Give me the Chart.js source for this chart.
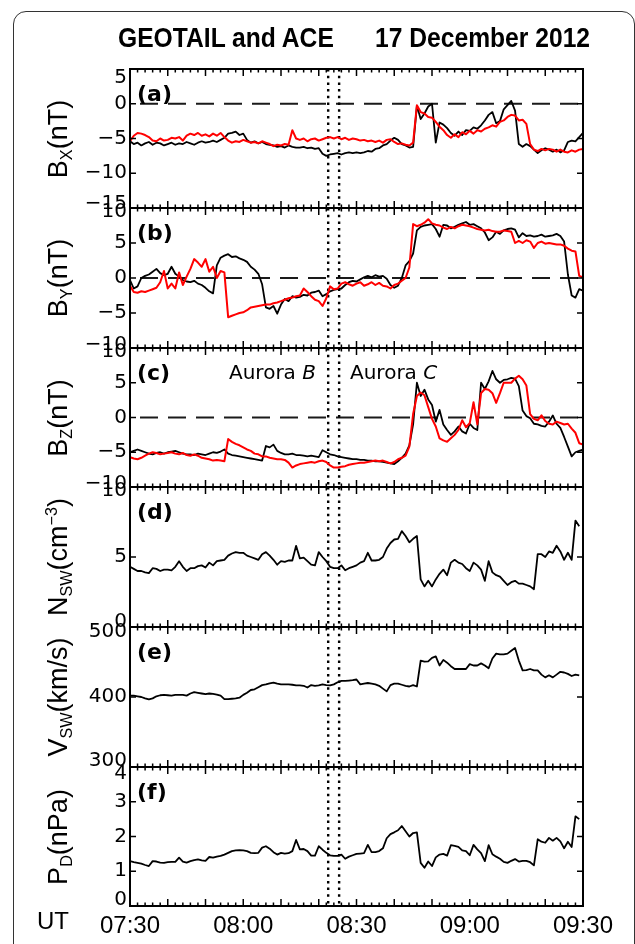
<!DOCTYPE html>
<html>
<head>
<meta charset="utf-8">
<title>GEOTAIL and ACE 17 December 2012</title>
<script src="https://cdn.jsdelivr.net/npm/chart.js@4.4.1/dist/chart.umd.min.js"></script>
<style>
  html, body { margin: 0; padding: 0; background: #fff; }
  #wrap { position: relative; width: 635px; height: 944px; overflow: hidden; background: #fff; }
  #wrap canvas { position: absolute; left: 0; top: 0; }
  #frame { position: absolute; left: 12.5px; top: 10.5px; width: 622px; height: 980px; border: 1.6px solid #333; border-radius: 13px; box-sizing: border-box; }
  .t { position: absolute; white-space: nowrap; line-height: 1; color: #000; }
  .title { font-family: 'Liberation Sans', Arial, sans-serif; font-weight: bold; font-size: 28px; transform: scaleX(0.88); transform-origin: 0 0; top: 24.3px; }
  .ytitle { font-family: 'Liberation Sans', Arial, sans-serif; font-size: 27px; transform: translate(-50%, -50%) rotate(-90deg); }
  .ytitle .sb { font-size: 0.6em; position: relative; top: 0.32em; }
  .ytitle .sp { font-size: 0.6em; position: relative; top: -0.62em; }
  .letter { font-family: 'DejaVu Sans', sans-serif; font-weight: bold; font-size: 22px; }
  .aur { font-family: 'DejaVu Sans', sans-serif; font-size: 20px; }
  .ut { font-family: 'Liberation Sans', Arial, sans-serif; font-size: 24px; }
</style>
</head>
<body>
<div id="wrap"><div id="frame"></div></div>
<script>
// ---------------- data ----------------
const minutes = [0,1,2,3,4,5,6,7,8,9,10,11,12,13,14,15,16,17,18,19,20,21,22,23,24,25,26,27,28,29,
  30,31,32,33,34,35,36,37,38,39,40,41,42,43,44,45,46,47,48,49,50,51,52,53,54,55,56,57,58,59,
  60,61,62,63,64,65,66,67,68,69,70,71,72,73,74,75,76,77,78,79,80,81,82,83,84,85,86,87,88,89,
  90,91,92,93,94,95,96,97,98,99,100,101,102,103,104,105,106,107,108,109,110,111,112,113,114,115,116,117,118,119,120];
const eventMinutes = [52.5, 55.4];
const timeTickValues = [0, 30, 60, 90, 120];
const timeTickLabels = ['07:30', '08:00', '08:30', '09:00', '09:30'];
const bxTicks = [-15, -10, -5, 0, 5];
const byTicks = [-10, -5, 0, 5, 10];
const bzTicks = [-10, -5, 0, 5, 10];
const nTicks = [0, 5, 10];
const vTicks = [300, 400, 500];
const pTicks = [0, 1, 2, 3, 4];
const panelLetters = ['(a)', '(b)', '(c)', '(d)', '(e)', '(f)'];
const axisTitles = [
  'B<span class="sb">X</span>(nT)',
  'B<span class="sb">Y</span>(nT)',
  'B<span class="sb">Z</span>(nT)',
  'N<span class="sb">SW</span>(cm<span class="sp">\u22123</span>)',
  'V<span class="sb">SW</span>(km/s)',
  'P<span class="sb">D</span>(nPa)'
];

const bxGeotail = [-5.4,-5.8,-5.6,-6.0,-5.7,-5.5,-5.9,-5.6,-5.7,-6.0,
  -5.8,-5.6,-5.9,-5.7,-5.8,-5.5,-5.7,-5.9,-5.6,-5.4,
  -5.6,-5.5,-5.3,-5.5,-5.2,-4.9,-4.3,-4.2,-4.0,-4.5,
  -4.3,-5.2,-5.6,-5.4,-5.7,-5.5,-5.8,-5.9,-6.0,-6.2,
  -6.1,-6.3,-6.0,-6.2,-6.3,-6.3,-6.2,-6.4,-6.3,-6.5,
  -6.4,-7.2,-7.5,-7.3,-7.2,-7.1,-7.3,-7.1,-7.0,-7.1,
  -7.0,-7.1,-7.0,-6.8,-6.9,-6.5,-6.4,-6.0,-5.8,-5.3,
  -4.9,-5.2,-5.8,-6.0,-6.3,-6.2,-0.3,-2.2,-1.4,-0.4,
  0.0,-5.6,-2.7,-3.0,-3.5,-4.2,-4.6,-4.0,-4.5,-3.8,
  -3.9,-3.4,-3.6,-3.1,-2.4,-1.6,-1.2,-2.8,-2.5,-0.8,
  -0.2,0.4,-1.0,-5.8,-6.2,-5.8,-6.1,-6.6,-7.1,-6.7,
  -6.4,-6.6,-6.9,-6.6,-7.0,-6.7,-5.5,-5.3,-5.4,-4.8,
  -4.2];
const bxAce = [-5.4,-4.6,-4.2,-4.3,-4.5,-4.8,-5.3,-5.4,-5.0,-5.3,
  -5.2,-4.9,-5.0,-4.8,-5.3,-4.6,-4.3,-4.5,-4.2,-4.6,
  -4.4,-4.7,-4.3,-4.6,-4.2,-4.8,-5.3,-5.6,-5.4,-5.5,
  -5.2,-5.4,-5.6,-5.5,-5.7,-5.4,-5.6,-5.8,-6.1,-5.9,
  -6.0,-5.8,-5.9,-3.8,-5.0,-5.2,-5.0,-5.4,-5.1,-5.0,
  -5.3,-5.1,-4.9,-4.8,-5.0,-4.8,-5.1,-4.9,-5.2,-5.0,
  -5.1,-5.3,-5.2,-5.4,-5.3,-5.5,-5.3,-5.6,-5.2,-5.1,
  -5.5,-5.8,-5.7,-5.9,-6.0,-5.6,-0.2,-1.2,-1.4,-1.9,
  -2.0,-2.6,-3.3,-3.8,-4.5,-4.9,-4.4,-4.8,-4.1,-4.4,
  -3.9,-4.3,-3.8,-4.0,-3.6,-3.4,-3.1,-3.3,-2.6,-2.4,
  -1.9,-1.6,-1.7,-2.4,-2.3,-2.9,-5.8,-6.6,-6.8,-6.5,
  -6.7,-6.5,-6.6,-6.9,-6.6,-6.9,-7.0,-6.7,-6.9,-6.6,
  -6.5];
const byGeotail = [-0.3,-1.5,-1.2,0.0,0.3,0.5,0.9,1.3,0.7,0.4,
  0.6,1.6,0.6,0.2,-0.3,-0.5,-0.6,-0.4,-0.8,-1.0,
  -1.4,-1.9,-2.2,1.8,2.9,3.2,3.4,3.0,3.1,2.8,
  2.6,2.3,1.6,1.2,0.6,-0.9,-4.2,-4.4,-4.0,-5.1,
  -3.8,-3.0,-3.3,-2.6,-2.8,-2.7,-2.4,-2.5,-2.1,-2.0,
  -1.8,-2.6,-2.3,-1.9,-1.7,-1.6,-1.5,-1.0,-0.6,-0.4,
  -0.5,-0.2,0.1,0.3,0.1,0.4,0.2,0.3,-0.1,-1.0,
  -1.4,-1.1,0.0,1.8,2.4,3.5,6.8,7.3,7.5,7.6,
  7.7,7.0,5.9,7.6,7.5,7.1,7.3,7.6,7.8,8.0,
  7.6,7.7,7.4,7.1,6.5,5.4,5.8,6.6,6.3,6.8,
  7.0,7.1,6.9,5.8,6.4,6.0,6.1,5.9,6.0,6.2,
  5.9,6.0,6.1,6.3,6.0,5.2,0.5,-2.5,-2.8,-1.6,
  -1.8];
const byAce = [-1.1,-2.0,-2.1,-1.9,-2.0,-1.8,-1.6,-1.4,-0.6,1.0,
  -1.5,-0.8,-1.5,0.8,-1.0,0.2,1.3,2.7,2.2,1.6,
  2.7,0.9,1.6,0.0,1.0,0.8,-5.6,-5.4,-5.2,-5.0,
  -4.9,-4.6,-4.2,-4.1,-4.0,-3.9,-3.8,-3.8,-3.6,-3.5,
  -3.3,-3.1,-2.9,-2.8,-2.6,-2.5,-1.5,-2.0,-2.6,-3.1,
  -3.3,-4.0,-2.9,-1.2,-1.6,-1.5,-0.8,-0.6,-0.9,-1.1,
  -0.8,-0.6,-1.1,-0.9,-0.6,-1.0,-0.7,-1.1,-1.2,-1.5,
  -1.0,-0.8,-0.4,0.0,1.5,7.7,7.4,7.6,7.9,8.4,
  7.8,7.6,7.5,7.2,7.0,7.3,7.1,7.4,7.6,7.5,
  7.4,7.2,7.0,6.9,6.8,6.9,6.7,6.6,6.6,6.8,
  6.7,6.6,5.0,5.3,5.0,5.4,5.2,4.3,5.0,5.2,
  4.9,5.0,4.9,4.8,4.8,4.6,4.2,3.9,3.8,0.3,
  0.1];
const bzGeotail = [-5.0,-4.8,-4.6,-4.8,-5.0,-5.2,-5.3,-5.1,-5.0,-5.2,
  -5.0,-4.9,-4.8,-5.0,-5.2,-5.3,-5.3,-5.4,-5.2,-5.3,
  -5.4,-5.2,-5.0,-5.1,-4.9,-4.6,-5.2,-5.4,-5.5,-5.6,
  -5.7,-5.8,-5.9,-6.0,-6.1,-6.2,-4.1,-4.3,-3.9,-4.8,
  -5.1,-5.3,-5.3,-5.2,-5.4,-5.4,-5.5,-5.6,-5.5,-5.6,
  -5.7,-4.7,-5.0,-5.3,-5.4,-5.6,-5.7,-5.8,-5.9,-6.0,
  -6.0,-6.1,-6.1,-6.2,-6.2,-6.3,-6.3,-6.4,-6.5,-6.6,
  -6.7,-6.3,-5.8,-5.2,-4.0,-1.0,5.0,3.1,4.0,2.6,
  1.8,-0.6,1.1,-1.0,-1.8,-2.5,-2.0,-1.3,-2.0,-2.3,
  -0.9,-1.5,-1.8,5.0,4.1,5.2,6.7,5.5,5.0,5.4,
  5.5,5.7,5.6,4.5,1.0,0.2,-0.1,-0.9,-1.0,-1.2,
  -1.3,-0.6,0.3,-0.9,-1.5,-2.8,-4.2,-5.6,-5.0,-4.8,
  -4.6];
const bzAce = [-5.7,-5.9,-6.0,-5.8,-5.5,-5.2,-5.0,-5.1,-5.3,-5.2,
  -5.1,-5.0,-5.2,-5.3,-5.1,-5.4,-5.5,-5.3,-5.5,-5.8,
  -5.9,-6.0,-6.2,-6.1,-6.2,-6.3,-3.1,-3.5,-3.8,-4.0,
  -4.3,-4.6,-4.8,-5.2,-5.3,-5.6,-5.6,-5.8,-5.9,-6.0,
  -6.0,-6.1,-6.5,-7.2,-6.9,-6.7,-6.6,-6.5,-6.4,-6.5,
  -6.3,-6.2,-6.4,-6.9,-7.2,-7.2,-7.1,-7.0,-6.8,-6.7,
  -6.6,-6.5,-6.5,-6.4,-6.3,-6.2,-6.3,-6.2,-6.4,-6.6,
  -6.4,-6.0,-5.8,-5.5,-4.2,0.5,3.1,3.6,3.2,1.5,
  -0.2,-1.3,-3.0,-3.3,-3.5,-3.0,-2.5,-1.8,-0.4,-1.4,
  -0.8,2.2,-1.0,3.5,4.1,4.0,3.5,2.1,3.5,5.0,
  5.0,5.0,5.6,6.0,5.5,4.6,0.5,-0.2,-0.4,0.3,
  -0.5,-0.9,-1.0,-0.6,-0.8,-1.0,-0.9,-1.6,-2.2,-3.7,
  -3.9];
const nsw = [4.3,4.15,4.0,4.0,3.9,3.85,4.2,4.15,4.0,4.1,
  4.1,4.05,4.3,4.7,4.3,4.0,4.2,4.2,4.35,4.4,
  4.25,4.6,4.4,4.7,4.75,4.8,5.1,5.25,5.35,5.3,
  5.3,5.1,5.0,4.9,4.8,5.2,5.35,5.1,4.8,4.45,
  4.7,4.65,4.75,4.75,5.8,4.9,4.95,4.7,4.45,4.4,
  5.35,5.0,4.7,4.3,4.2,4.2,4.4,4.05,4.2,4.3,
  4.4,4.6,4.7,5.3,4.75,4.75,4.8,5.0,5.6,6.0,
  6.25,6.3,6.85,6.5,6.05,6.3,6.5,3.4,2.9,3.3,
  2.9,3.4,3.8,4.1,3.7,4.6,4.8,4.6,4.5,4.2,
  4.0,4.6,4.4,4.1,3.3,4.7,3.9,3.7,3.6,3.3,
  3.0,3.2,3.3,3.1,3.1,3.0,2.9,2.7,5.2,5.2,
  5.0,5.4,5.3,5.8,5.4,4.8,5.3,4.8,7.6,7.2];
const vsw = [402,402,401,400,398,396.5,398,401,402.5,403,
  402.5,402,403,403,403,402,405,407,406,405,
  404,405,404.5,403.5,402,397,397,397.5,398,399,
  403,406,410,411,414,417,418,419.5,420.5,419,
  418,418,418,417.5,416.5,416.5,416,413.5,417,416,
  416.5,418,417,416.5,418,421,423,423,423.5,424,
  425,418,419,420,419,418,416,412,408,417,
  419,419,417.5,416,415,417,415,452,450.5,451,
  456,458,445,453,449,444,440,440,440,440,
  447,445,445,448,445,441,455,462,461,461,
  462,466,470,452,438,438.5,440,438,438,432,
  428,431,428,432,436,435,433,430,432,431];
const psw = [1.29,1.26,1.24,1.22,1.18,1.15,1.29,1.28,1.25,1.24,
  1.26,1.27,1.27,1.39,1.28,1.25,1.29,1.32,1.34,1.31,
  1.30,1.41,1.39,1.42,1.44,1.48,1.53,1.58,1.60,1.61,
  1.60,1.58,1.53,1.52,1.53,1.68,1.72,1.65,1.55,1.48,
  1.53,1.51,1.52,1.58,1.90,1.63,1.64,1.58,1.45,1.45,
  1.72,1.62,1.53,1.46,1.44,1.44,1.48,1.36,1.42,1.46,
  1.50,1.51,1.52,1.76,1.55,1.55,1.58,1.66,1.95,2.07,
  2.12,2.18,2.30,2.15,2.00,2.10,2.12,1.24,1.10,1.28,
  1.15,1.40,1.48,1.50,1.45,1.75,1.73,1.70,1.60,1.58,
  1.46,1.76,1.63,1.52,1.29,1.75,1.49,1.42,1.36,1.27,
  1.24,1.30,1.35,1.28,1.30,1.30,1.26,1.17,1.92,1.85,
  1.82,1.96,1.88,1.96,1.86,1.66,1.85,1.70,2.58,2.50];

// ---------------- layout ----------------
const W = 635, H = 944;
const PLOT_LEFT = 130, PLOT_RIGHT = 583;
const bounds = [69, 208, 348, 487, 627, 767, 906];
const X_AXIS_H = 38;
const TICK_FONT_SIZE = 20;
const RED = '#ff0000', BLACK = '#000000';

// edgeShift: [bottom label shift up, top label shift down] in px
const panels = [
  { ticks: bxTicks, zero: true, edgeShift: [4, 9], series: [{ v: bxAce, c: RED, w: 2, o: 0 }, { v: bxGeotail, c: BLACK, w: 1.8, o: 1 }] },
  { ticks: byTicks, zero: true, edgeShift: [3, 4], series: [{ v: byAce, c: RED, w: 2, o: 0 }, { v: byGeotail, c: BLACK, w: 1.8, o: 1 }] },
  { ticks: bzTicks, zero: true, edgeShift: [3, 4], series: [{ v: bzAce, c: RED, w: 2, o: 0 }, { v: bzGeotail, c: BLACK, w: 1.8, o: 1 }] },
  { ticks: nTicks, zero: false, edgeShift: [5, 4], series: [{ v: nsw, c: BLACK, w: 1.8, o: 0 }] },
  { ticks: vTicks, zero: false, edgeShift: [6, 5], series: [{ v: vsw, c: BLACK, w: 1.8, o: 0 }] },
  { ticks: pTicks, zero: false, edgeShift: [6, 7], series: [{ v: psw, c: BLACK, w: 1.8, o: 0 }] }
];

function fmtNum(v) { return v < 0 ? '\u2212' + Math.abs(v) : String(v); }

function decoPlugin(cfg) {
  return {
    id: 'deco',
    beforeDatasetsDraw(chart) {
      const { ctx, chartArea: a, scales: { x, y } } = chart;
      ctx.save();
      if (cfg.zero) {
        const py = y.getPixelForValue(0);
        ctx.strokeStyle = '#1a1a1a'; ctx.lineWidth = 2;
        ctx.setLineDash([18, 10]); ctx.lineDashOffset = 18;
        ctx.beginPath(); ctx.moveTo(a.left, py); ctx.lineTo(a.right, py); ctx.stroke();
      }
      ctx.setLineDash([2.5, 4.2]); ctx.lineDashOffset = 0;
      ctx.lineWidth = 2.4; ctx.strokeStyle = '#000';
      eventMinutes.forEach(m => {
        const px = x.getPixelForValue(m);
        ctx.beginPath(); ctx.moveTo(px, a.top); ctx.lineTo(px, a.bottom); ctx.stroke();
      });
      ctx.restore();
    },
    afterDatasetsDraw(chart) {
      const { ctx, chartArea: a, scales: { x, y } } = chart;
      ctx.save();
      ctx.strokeStyle = '#000';
      ctx.lineWidth = 1.5;
      ctx.beginPath();
      for (let m = 0; m <= 120; m += 2) {
        const px = x.getPixelForValue(m);
        const len = (m % 10 === 0) ? 7 : 3.5;
        ctx.moveTo(px, a.top); ctx.lineTo(px, a.top + len);
        ctx.moveTo(px, a.bottom); ctx.lineTo(px, a.bottom - len);
      }
      cfg.ticks.forEach(v => {
        const py = y.getPixelForValue(v);
        ctx.moveTo(a.left, py); ctx.lineTo(a.left + 6, py);
        ctx.moveTo(a.right, py); ctx.lineTo(a.right - 6, py);
      });
      ctx.stroke();
      ctx.lineWidth = 2;
      ctx.strokeRect(a.left, a.top, a.right - a.left, a.bottom - a.top);
      ctx.restore();
    }
  };
}

const wrap = document.getElementById('wrap');
Chart.defaults.color = '#000';

panels.forEach((p, i) => {
  const cv = document.createElement('canvas');
  cv.width = W; cv.height = H;
  cv.style.width = W + 'px'; cv.style.height = H + 'px';
  wrap.appendChild(cv);
  const top = bounds[i], bottom = bounds[i + 1];
  const isLast = i === panels.length - 1;
  const nT = p.ticks.length;
  new Chart(cv.getContext('2d'), {
    type: 'line',
    data: {
      datasets: p.series.map(s => ({
        data: s.v.map((val, k) => ({ x: minutes[k], y: val })),
        borderColor: s.c, borderWidth: s.w, pointRadius: 0, tension: 0,
        fill: false, order: s.o, borderJoinStyle: 'round'
      }))
    },
    options: {
      responsive: false, animation: false, devicePixelRatio: 1, events: [],
      plugins: { legend: { display: false }, tooltip: { enabled: false }, title: { display: false } },
      layout: { padding: { left: 0, right: W - PLOT_RIGHT, top: top, bottom: H - bottom - (isLast ? X_AXIS_H : 0) } },
      scales: {
        x: {
          type: 'linear', min: 0, max: 120, display: isLast,
          grid: { display: false, drawTicks: false }, border: { display: false },
          afterBuildTicks: s => { s.ticks = timeTickValues.map(v => ({ value: v })); },
          ticks: {
            maxRotation: 0, autoSkip: false, padding: 6, color: '#000',
            font: { family: "'Liberation Sans', Arial, sans-serif", size: 24 },
            callback: (v, k) => timeTickLabels[k]
          },
          afterFit: s => { s.height = isLast ? X_AXIS_H : 0; }
        },
        y: {
          type: 'linear', min: p.ticks[0], max: p.ticks[nT - 1],
          grid: { display: false, drawTicks: false }, border: { display: false },
          afterBuildTicks: s => { s.ticks = p.ticks.map(v => ({ value: v })); },
          ticks: {
            autoSkip: false, padding: 3, color: '#000',
            font: (c) => {
              let lh = 1.2;
              if (c.index === 0) lh = 2 * p.edgeShift[0] / TICK_FONT_SIZE;
              else if (c.index === nT - 1) lh = 2 * p.edgeShift[1] / TICK_FONT_SIZE;
              return { family: "'DejaVu Sans', sans-serif", size: TICK_FONT_SIZE, lineHeight: lh };
            },
            callback: (v, k) => {
              const s = fmtNum(v);
              if (k === 0) return [s, ''];
              if (k === nT - 1) return ['', s];
              return s;
            }
          },
          afterFit: s => { s.width = PLOT_LEFT; }
        }
      }
    },
    plugins: [decoPlugin(p)]
  });
});

// ---------------- text overlays ----------------
function addText(cls, html, left, top) {
  const d = document.createElement('div');
  d.className = 't ' + cls;
  d.innerHTML = html;
  if (left !== null) d.style.left = left + 'px';
  if (top !== null) d.style.top = top + 'px';
  wrap.appendChild(d);
  return d;
}
addText('title', 'GEOTAIL and ACE', 118, null);
addText('title', '17 December 2012', 375, null);

panels.forEach((p, i) => {
  const top = bounds[i], bottom = bounds[i + 1];
  addText('letter', panelLetters[i], 137, top + 14);
  addText('ytitle', axisTitles[i], 57.6, (top + bottom) / 2);
});
addText('aur', 'Aurora <i>B</i>', 229, 362.4);
addText('aur', 'Aurora <i>C</i>', 350, 362.4);
addText('ut', 'UT', 37, 908.7);
</script>
</body>
</html>
